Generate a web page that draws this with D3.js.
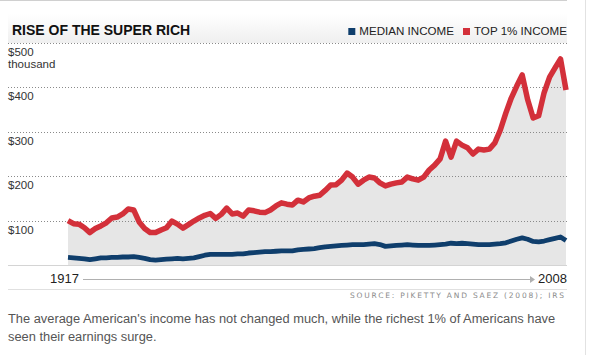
<!DOCTYPE html>
<html>
<head>
<meta charset="utf-8">
<script src="https://cdn.jsdelivr.net/npm/d3@7"></script>
<style>
  html, body { margin: 0; padding: 0; background: #fff; }
  svg { display: block; }
</style>
</head>
<body>
<svg id="chart" width="590" height="355"></svg>
<script>
// ---- data ----
const years = d3.range(1917, 2009);
const top1Income = [
  100, 93, 92, 84, 73, 82, 88, 95, 106, 108,
  115, 126, 124, 97, 82, 73, 73, 79, 84, 99,
  92, 83, 91, 99, 106, 112, 116, 105, 114, 128,
  115, 117, 110, 124, 122, 119, 118, 124, 133, 140,
  137, 135, 146, 142, 151, 155, 157, 168, 180, 181,
  191, 207, 198, 182, 191, 198, 196, 185, 178, 182,
  185, 187, 198, 194, 191, 198, 214, 225, 239, 279,
  243, 279, 270, 264, 250, 261, 259, 261, 275, 304,
  342, 376, 403, 428, 372, 331, 336, 388, 423, 444,
  464, 394
];
const medianIncome = [
  17, 16, 15, 14, 12, 14, 16, 16, 17, 17,
  18, 18, 19, 17, 15, 12, 11, 12, 13, 14,
  15, 14, 15, 16, 19, 22, 24, 24, 24, 24,
  24, 25, 25, 27, 28, 29, 30, 30, 31, 32,
  32, 32, 34, 35, 36, 37, 39, 41, 42, 43,
  44, 45, 46, 46, 46, 47, 48, 46, 42, 43,
  44, 45, 46, 45, 44, 44, 44, 45, 46, 47,
  49, 48, 49, 48, 47, 46, 46, 46, 47, 48,
  50, 54, 58, 61, 58, 53, 52, 54, 57, 60,
  63, 55
];
const yTicks = [100, 200, 300, 400, 500];
const yTickLabels = ["$100", "$200", "$300", "$400", "$500"];
const legendLabels = ["MEDIAN INCOME", "TOP 1% INCOME"];
const title = "RISE OF THE SUPER RICH";
const sourceText = "SOURCE: PIKETTY AND SAEZ (2008); IRS";
const captionLines = [
  "The average American's income has not changed much, while the richest 1% of Americans have",
  "seen their earnings surge."
];

// ---- drawing ----
const RED = "#d3303a", BLUE = "#0f3e6c";
const FONT = "Arial, 'Liberation Sans', sans-serif";
const svg = d3.select("#chart");

const x = d3.scaleLinear().domain([1917, 2008]).range([68, 566]);
const y = d3.scaleLinear().domain([0, 500]).range([265, 43]);

// frame lines
svg.append("line").attr("x1", 0).attr("x2", 567).attr("y1", 0.5).attr("y2", 0.5)
  .attr("stroke", "#d0d0d0");
svg.append("line").attr("x1", 585.5).attr("x2", 585.5).attr("y1", 0).attr("y2", 355)
  .attr("stroke", "#e2e2e2");

// header gradient
const defs = svg.append("defs");
const g1 = defs.append("linearGradient").attr("id", "hdr").attr("x1", 0).attr("x2", 0).attr("y1", 0).attr("y2", 1);
g1.append("stop").attr("offset", "0%").attr("stop-color", "#ffffff");
g1.append("stop").attr("offset", "100%").attr("stop-color", "#efefef");
svg.append("rect").attr("x", 8).attr("y", 14).attr("width", 559).attr("height", 29).attr("fill", "url(#hdr)");

// title
svg.append("text").attr("x", 12).attr("y", 35).text(title)
  .attr("font-family", FONT).attr("font-weight", "bold").attr("font-size", 14).attr("fill", "#111");

// legend (laid out right to left, right edge at 567)
const legendColors = [BLUE, RED];
let lx = 567;
for (let i = legendLabels.length - 1; i >= 0; i--) {
  const t = svg.append("text").attr("x", lx).attr("y", 35).attr("text-anchor", "end").text(legendLabels[i])
    .attr("font-family", FONT).attr("font-size", 11.6).attr("fill", "#222");
  const w = t.node().getComputedTextLength();
  svg.append("rect").attr("x", lx - w - 11).attr("y", 28).attr("width", 7).attr("height", 7).attr("fill", legendColors[i]);
  lx = lx - w - 20;
}

// area under top 1% line
const data = years.map((yr, i) => ({ yr, top: top1Income[i], med: medianIncome[i] }));
svg.append("path").datum(data)
  .attr("d", d3.area().x(d => x(d.yr)).y0(y(0)).y1(d => y(d.top)))
  .attr("fill", "#e6e6e6");

// gridlines
const grid = svg.append("g");
yTicks.forEach((t, i) => {
  grid.append("line").attr("x1", 8).attr("x2", 567).attr("y1", Math.round(y(t)) + 0.5).attr("y2", Math.round(y(t)) + 0.5)
    .attr("stroke", "#8a8a8a").attr("stroke-dasharray", "1,2");
  grid.append("text").attr("x", 8).attr("y", y(t) + 13).text(yTickLabels[i])
    .attr("font-family", FONT).attr("font-size", 11.5).attr("fill", "#333");
});
svg.append("text").attr("x", 8).attr("y", y(500) + 25).text("thousand")
  .attr("font-family", FONT).attr("font-size", 11.5).attr("fill", "#333");

// baseline
svg.append("line").attr("x1", 8).attr("x2", 567).attr("y1", y(0) + 0.5).attr("y2", y(0) + 0.5)
  .attr("stroke", "#d4d4d4");

// lines
svg.append("path").datum(data)
  .attr("d", d3.line().x(d => x(d.yr)).y(d => y(d.top)))
  .attr("fill", "none").attr("stroke", RED).attr("stroke-width", 5.5)
  .attr("stroke-linejoin", "round").attr("stroke-linecap", "butt");
svg.append("path").datum(data)
  .attr("d", d3.line().x(d => x(d.yr)).y(d => y(d.med)))
  .attr("fill", "none").attr("stroke", BLUE).attr("stroke-width", 4.8)
  .attr("stroke-linejoin", "round").attr("stroke-linecap", "butt");

// x axis arrow
svg.append("text").attr("x", 79).attr("y", 283).attr("text-anchor", "end").text(years[0])
  .attr("font-family", FONT).attr("font-size", 13).attr("fill", "#222");
svg.append("text").attr("x", 538).attr("y", 283).text(years[years.length - 1])
  .attr("font-family", FONT).attr("font-size", 13).attr("fill", "#222");
svg.append("line").attr("x1", 83).attr("x2", 531).attr("y1", 279.5).attr("y2", 279.5)
  .attr("stroke", "#b0b0b0");
svg.append("path").attr("d", "M530,276 L535,279.5 L530,283 Z").attr("fill", "#b0b0b0");

// separator
svg.append("line").attr("x1", 8).attr("x2", 567).attr("y1", 289.5).attr("y2", 289.5)
  .attr("stroke", "#e0e0e0");

// source
svg.append("text").attr("x", 350).attr("y", 297.5).text(sourceText)
  .attr("font-family", "'DejaVu Sans', sans-serif").attr("font-size", 7.5).attr("fill", "#8a8a8a")
  .attr("textLength", 214).attr("lengthAdjust", "spacing");

// caption
captionLines.forEach((ln, i) => {
  svg.append("text").attr("x", 8).attr("y", 323 + i * 18).text(ln)
    .attr("font-family", FONT).attr("font-size", 12.85).attr("fill", "#555");
});
</script>
</body>
</html>
